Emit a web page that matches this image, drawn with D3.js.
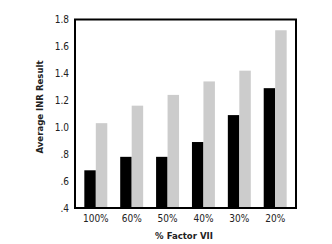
<!DOCTYPE html>
<html><head><meta charset="utf-8">
<script src="https://cdn.jsdelivr.net/npm/d3@7"></script>
<style>
body{margin:0;background:#fff;}
svg{display:block;}
text{font-family:"Liberation Sans Narrow","DejaVu Sans Condensed",Arial,sans-serif;font-stretch:condensed;}
</style></head>
<body>
<script>
const categories = ["100%","60%","50%","40%","30%","20%"];
const seriesBlack = [0.68,0.78,0.78,0.89,1.09,1.29];
const seriesGray = [1.03,1.16,1.24,1.34,1.42,1.72];
const yTicks = [0.4,0.6,0.8,1.0,1.2,1.4,1.6,1.8];
const yTickLabels = [".4",".6",".8","1.0","1.2","1.4","1.6","1.8"];

(function(){
const W=332,H=244;
const svg=d3.select("body").append("svg").attr("width",W).attr("height",H);
const mLeft=75,mRight=296,mTop=19.5,mBottom=208;

const x=d3.scaleBand().domain(categories).range([mLeft,mRight]).paddingInner(0.36).paddingOuter(0.26);
const xs=d3.scaleBand().domain([0,1]).range([0,x.bandwidth()]);
const y=d3.scaleLinear().domain([0.4,1.8]).range([mBottom,mTop]);

const g=svg.append("g");
categories.forEach((c,i)=>{
  g.append("rect").attr("x",x(c)+xs(0)).attr("y",y(seriesBlack[i])).attr("width",xs.bandwidth()).attr("height",y(0.4)-y(seriesBlack[i])).attr("fill","#000");
  g.append("rect").attr("x",x(c)+xs(1)).attr("y",y(seriesGray[i])).attr("width",xs.bandwidth()).attr("height",y(0.4)-y(seriesGray[i])).attr("fill","#cccccc");
});

svg.append("rect").attr("x",mLeft).attr("y",mTop).attr("width",mRight-mLeft).attr("height",mBottom-mTop)
  .attr("fill","none").attr("stroke","#000").attr("stroke-width",2);

const yAxis=d3.axisLeft(y).tickValues(yTicks).tickFormat((d,i)=>yTickLabels[i]).tickSize(0).tickPadding(5);
const ya=svg.append("g").attr("transform",`translate(${mLeft-1},0)`).call(yAxis);
ya.select(".domain").remove();
ya.selectAll("text").attr("font-size",10).attr("fill","#222").attr("font-family",null);

const xAxis=d3.axisBottom(x).tickSize(0).tickPadding(6);
const xa=svg.append("g").attr("transform",`translate(0,${mBottom+1})`).call(xAxis);
xa.select(".domain").remove();
xa.selectAll("text").attr("font-size",10).attr("fill","#222").attr("font-family",null);

svg.append("text").attr("transform","translate(43,107) rotate(-90)").attr("text-anchor","middle")
  .attr("font-size",9.5).attr("font-weight","bold").attr("fill","#222").text("Average INR Result");
svg.append("text").attr("x",184).attr("y",239).attr("text-anchor","middle")
  .attr("font-size",9.5).attr("font-weight","bold").attr("fill","#222").text("% Factor VII");
})();
</script>
</body></html>
